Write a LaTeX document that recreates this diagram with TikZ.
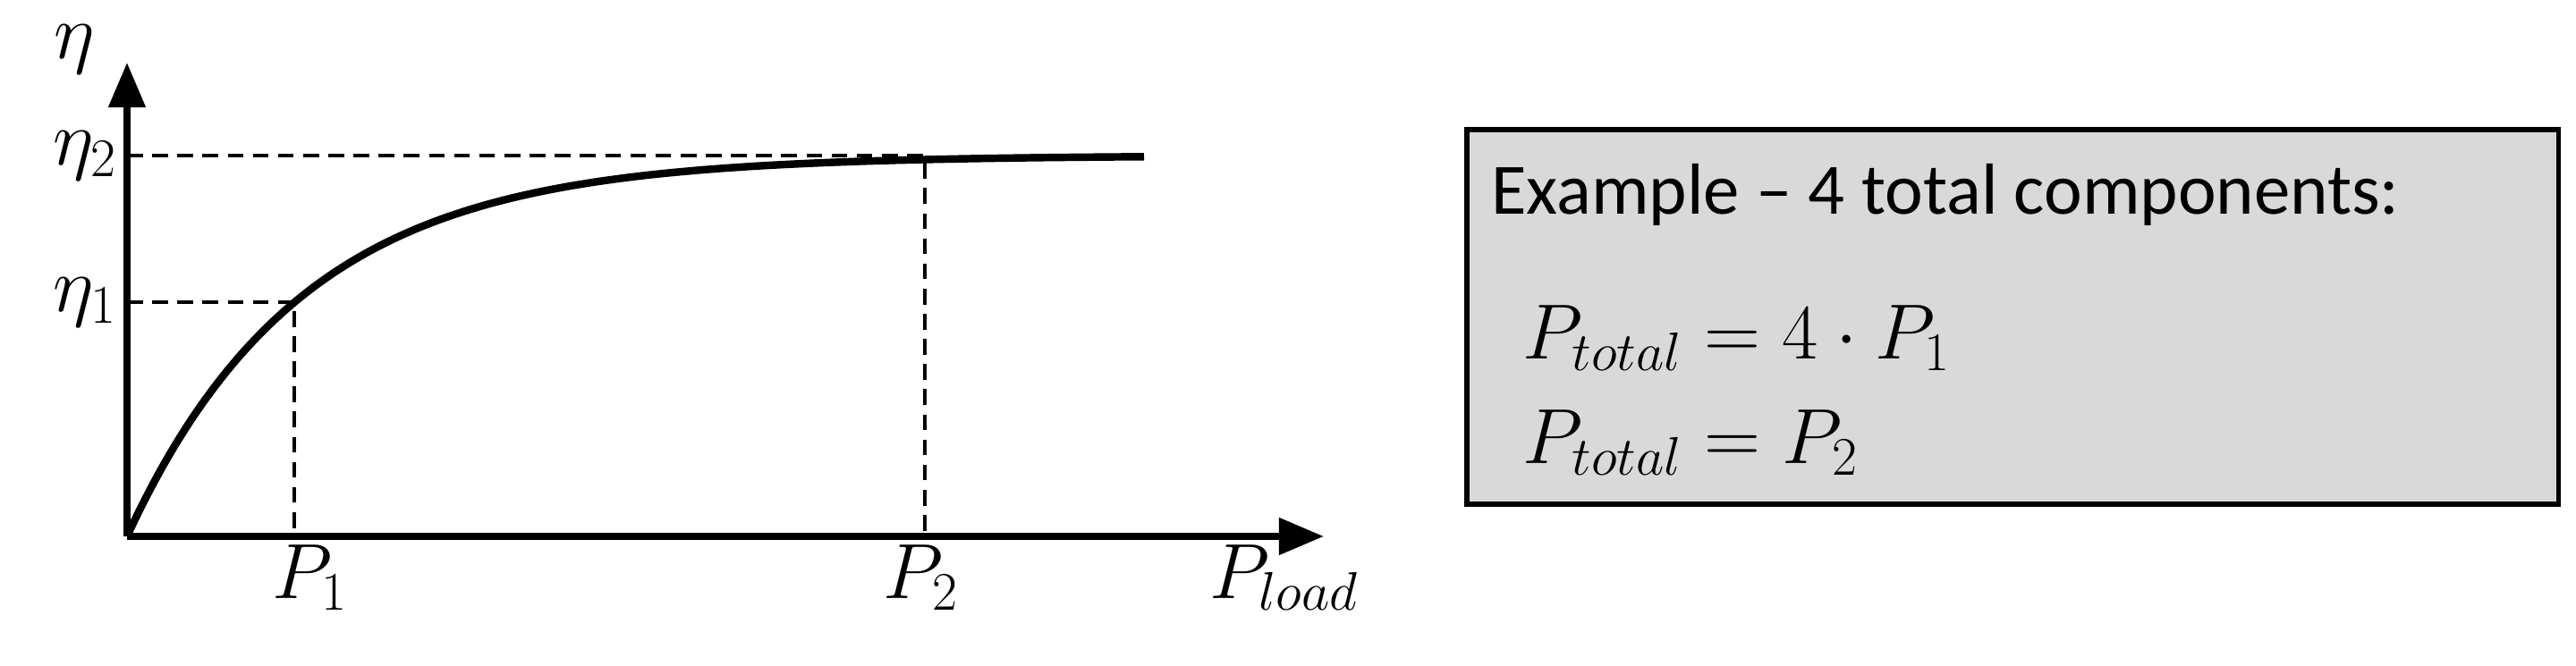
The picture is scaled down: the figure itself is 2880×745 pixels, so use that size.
\documentclass[tikz,border=0pt]{standalone}
\usepackage{fontspec}
\newfontfamily\carl{Carlito}
\usetikzlibrary{arrows.meta}
\begin{document}
\begin{tikzpicture}[x=0.01cm,y=0.01cm,
  ax/.style={line width=2.2pt,-{Triangle[length=0.5cm,width=0.4cm]}},
  dsh/.style={dashed,line width=0.9pt,dash pattern=on 5pt off 3pt},
  lab/.style={font=\fontsize{25}{30}\selectfont},
  txt/.style={font=\carl\fontsize{23}{28}\selectfont,anchor=west}]
\useasboundingbox (0,0) rectangle (2880,745);
\coordinate (O) at (142,145);
\coordinate (X) at (1480,145);
\coordinate (Y) at (142,675);
\coordinate (E2) at (142,571);
\coordinate (E1) at (142,407);
\coordinate (Q1) at (329,407);
\coordinate (Q2) at (1034,571);
\coordinate (B1) at (329,145);
\coordinate (B2) at (1034,145);
\draw[dsh] (E2) -- (Q2) -- (B2);
\draw[dsh] (E1) -- (Q1) -- (B1);
\draw[line width=2.4pt] plot[domain=0:1137,samples=120,smooth] ({142+\x},{145+426*(1-exp(-0.0051*\x))});
\draw[ax] (O) -- (X);
\draw[ax] (O) -- (Y);
\node[lab] (eta) at (83,690) {$\eta$};
\node[lab] (eta2) at (95,571) {$\eta_2$};
\node[lab] (eta1) at (95,407) {$\eta_1$};
\node[lab] (p1) at (347,99) {$P_1$};
\node[lab] (p2) at (1030,99) {$P_2$};
\node[lab] (pl) at (1436,99) {$P_{load}$};
\node[draw,line width=1.6pt,fill=black!15,minimum width=12.2cm,minimum height=4.19cm,anchor=south west] (box) at (1637,178) {};
\node[txt] (t1) at (1655,527) {Example – 4 total components:};
\node[lab,anchor=west] (t2) at (1690,367) {$P_{total} = 4\cdot P_1$};
\node[lab,anchor=west] (t3) at (1690,250) {$P_{total} = P_2$};
\end{tikzpicture}
\end{document}
